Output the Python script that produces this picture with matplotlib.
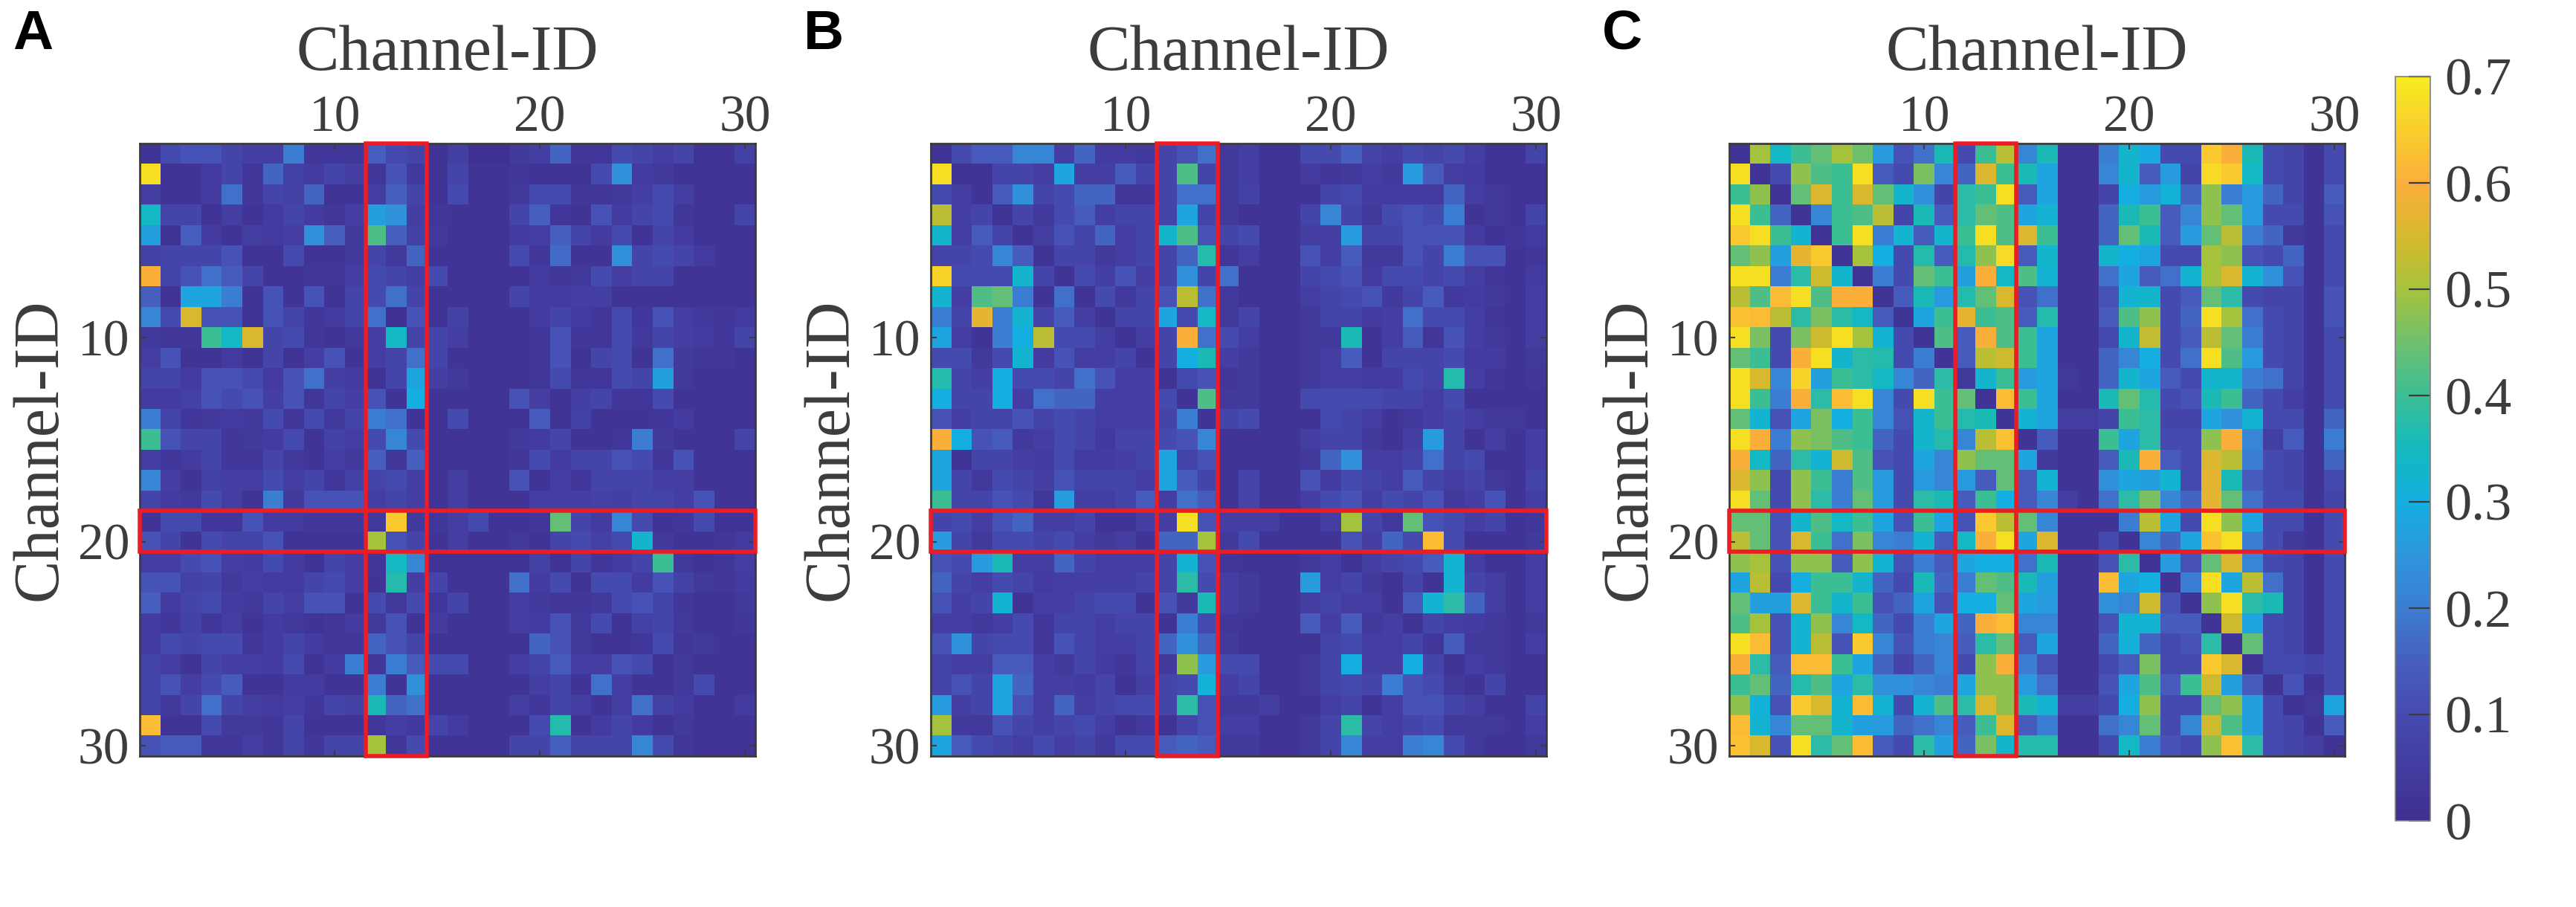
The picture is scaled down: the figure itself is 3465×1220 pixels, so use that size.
import numpy as np
import matplotlib
matplotlib.use('Agg')
import matplotlib.pyplot as plt
from matplotlib.colors import LinearSegmentedColormap
from matplotlib.patches import Rectangle

# ---------------- data (values in hundredths) ----------------
panel_labels = ['A', 'B', 'C']
axis_title = 'Channel-ID'
tick_vals = [10, 20, 30]
cbar_ticks = [0, 0.1, 0.2, 0.3, 0.4, 0.5, 0.6, 0.7]
cbar_ticklabels = ['0', '0.1', '0.2', '0.3', '0.4', '0.5', '0.6', '0.7']
vmin, vmax = 0.0, 0.7
box_cols = (12, 14)   # highlighted columns
box_rows = (19, 20)   # highlighted rows

A_pct = [
 [2,10,12,12,8,6,6,20,3,3,3,15,10,8,2,6,1,1,4,6,16,3,3,10,8,6,8,2,2,7],
 [68,2,2,5,8,3,16,7,5,8,6,3,12,4,2,8,2,2,3,2,2,2,10,24,5,4,2,2,2,2],
 [6,2,2,5,18,3,8,7,16,2,2,6,15,8,2,10,2,2,4,10,10,3,3,4,6,10,6,2,2,2],
 [34,8,8,2,6,2,5,8,5,3,6,27,24,6,3,2,2,2,8,15,3,2,12,5,8,10,3,2,2,8],
 [27,2,15,5,2,6,5,6,24,15,4,42,15,7,4,2,2,2,5,6,15,8,5,10,2,8,5,2,2,2],
 [7,8,8,8,12,2,2,10,2,2,4,8,4,16,2,2,2,2,10,3,17,2,2,24,8,10,8,5,2,2],
 [60,8,12,18,14,8,2,2,3,3,6,10,8,6,10,2,2,2,2,5,3,4,10,6,8,8,2,2,2,2],
 [15,2,28,28,20,2,12,2,12,2,8,10,18,8,2,2,2,2,8,5,5,6,6,2,2,2,2,2,2,2],
 [22,10,55,12,12,2,12,8,3,5,8,18,1,12,2,7,2,2,2,5,8,5,3,10,3,12,6,4,3,5],
 [4,3,3,40,34,55,8,10,3,2,4,6,34,8,8,6,2,2,2,3,12,3,3,10,4,8,6,5,3,8],
 [6,12,2,2,5,2,8,2,6,12,2,6,8,18,8,2,2,2,2,3,12,2,8,10,2,18,4,3,3,2],
 [8,8,5,12,12,10,5,12,18,6,5,2,8,28,6,4,2,2,2,3,10,3,3,10,8,27,4,2,2,2],
 [5,5,7,12,10,12,6,12,3,8,6,12,2,30,2,2,2,2,12,6,2,6,8,3,3,10,2,2,2,2],
 [20,8,3,4,5,4,10,3,10,4,8,20,18,2,2,10,2,2,2,14,2,7,2,2,2,3,5,2,2,2],
 [40,12,8,8,3,4,5,10,2,7,6,10,22,10,2,2,2,2,4,5,8,2,2,3,20,4,2,2,2,8],
 [6,3,5,8,3,3,8,4,2,6,4,15,3,15,2,2,2,2,3,10,5,8,8,12,10,3,12,2,2,2],
 [22,6,2,7,6,6,10,6,8,3,7,8,10,6,2,6,2,2,12,2,6,3,8,8,8,6,6,2,2,2],
 [8,5,4,10,6,2,20,4,12,12,12,6,8,6,2,6,2,2,2,6,6,6,7,6,8,8,6,12,2,2],
 [2,10,10,3,3,12,5,5,3,3,3,4,64,4,3,6,10,2,2,3,44,8,5,22,10,2,3,10,2,2],
 [12,8,2,10,8,8,12,2,2,2,2,50,12,8,2,6,2,2,4,2,8,10,7,10,33,4,2,2,3,5],
 [6,6,10,12,6,5,10,5,2,8,6,3,34,22,2,2,2,2,2,7,2,8,3,5,8,40,4,2,3,6],
 [12,12,7,8,4,6,5,5,8,10,6,2,37,6,8,2,2,2,18,5,10,2,10,10,5,12,7,4,3,5],
 [15,5,8,10,5,4,8,6,12,12,2,10,4,10,3,8,2,2,6,4,3,3,4,10,12,8,3,2,2,4],
 [5,3,7,3,6,2,5,4,2,3,5,4,12,2,5,2,2,2,6,5,12,4,10,2,7,8,4,2,2,3],
 [5,10,8,10,10,3,5,8,5,3,3,16,12,8,2,2,2,2,2,16,12,4,2,2,3,10,3,4,2,2],
 [8,6,2,8,6,6,5,10,2,5,20,3,20,14,10,10,2,2,6,8,14,6,6,12,10,2,4,2,2,2],
 [8,12,6,10,14,2,2,5,5,2,2,20,2,24,2,2,2,2,2,6,8,2,18,6,2,2,4,10,2,2],
 [8,4,8,18,8,6,5,6,3,8,7,36,16,18,2,2,2,2,6,3,8,6,2,6,18,7,5,2,2,5],
 [62,2,2,10,4,4,3,8,2,2,2,3,6,4,8,5,2,2,2,10,37,2,5,8,5,2,4,2,2,2],
 [12,14,14,3,3,6,3,8,3,8,8,50,3,10,2,2,2,2,8,8,15,8,8,8,22,10,3,2,2,2],
]

B_pct = [
 [2,10,14,14,22,22,6,16,5,5,4,8,12,18,4,6,2,2,10,10,15,8,6,10,8,10,6,2,2,8],
 [68,2,2,8,8,6,28,6,6,14,8,8,42,8,4,6,2,2,5,3,4,6,4,26,14,6,5,2,2,2],
 [10,6,2,14,24,8,10,16,16,3,3,8,18,18,4,7,2,2,2,8,10,5,5,5,5,16,6,4,2,2],
 [52,6,8,2,8,4,10,14,6,8,8,8,28,8,4,2,2,2,8,22,8,4,10,12,10,20,2,4,2,8],
 [33,6,14,8,2,6,12,8,16,6,8,33,42,12,8,10,2,2,6,6,26,8,8,12,12,12,5,2,3,5],
 [8,8,10,22,14,2,8,8,4,6,8,8,16,37,3,6,2,2,12,6,14,4,4,12,8,20,12,12,2,3],
 [66,10,10,10,33,8,2,10,6,12,6,8,24,8,18,2,2,2,8,10,12,5,10,10,8,10,6,3,2,5],
 [32,6,42,44,20,2,18,2,10,4,8,12,52,18,4,2,2,2,6,8,10,12,4,8,14,4,5,4,2,6],
 [20,8,57,20,32,8,14,6,2,8,8,28,10,34,4,8,2,2,4,8,8,5,6,18,10,10,6,3,2,6],
 [28,6,2,20,30,52,10,10,6,2,6,8,60,18,10,6,2,2,4,4,36,2,6,14,3,12,6,4,2,6],
 [10,10,4,10,32,5,12,6,6,8,2,8,30,36,6,4,2,2,4,6,14,2,8,8,8,10,5,5,2,4],
 [37,8,6,30,10,10,8,18,12,6,6,2,10,12,3,4,2,2,4,6,6,5,5,10,8,37,6,3,2,3],
 [30,8,8,30,6,18,16,16,6,6,6,10,2,42,4,4,2,2,10,10,10,10,8,8,6,10,2,2,2,2],
 [12,6,8,8,12,8,10,8,6,6,6,8,20,2,8,10,2,2,2,10,8,6,2,4,6,8,6,4,4,2],
 [60,30,12,14,4,6,10,8,4,8,8,10,12,22,2,2,2,2,6,8,8,4,2,6,26,8,2,6,2,6],
 [28,2,8,8,6,5,10,5,5,6,8,28,8,12,2,2,2,2,4,16,24,6,6,8,18,8,10,2,2,6],
 [28,8,4,10,8,6,12,8,8,8,6,28,14,8,2,8,2,2,12,5,10,8,6,14,8,6,8,4,2,8],
 [40,8,8,12,10,3,26,6,6,8,14,6,18,14,2,8,2,2,6,10,12,6,10,8,12,4,6,12,2,6],
 [8,10,6,12,16,6,6,8,2,2,6,6,68,12,6,6,6,2,2,6,50,8,4,44,12,10,6,8,2,3],
 [26,8,4,10,10,8,10,6,4,6,2,16,16,50,4,10,2,2,2,2,12,6,16,10,62,10,2,2,2,4],
 [12,10,26,36,6,6,16,8,6,6,6,8,32,12,3,2,2,2,4,6,2,6,8,10,14,32,6,2,2,6],
 [16,8,6,10,8,5,6,6,6,6,8,8,38,10,6,4,2,2,26,6,8,4,2,8,2,32,8,6,2,6],
 [12,6,8,32,2,6,6,8,10,10,2,12,4,36,6,4,2,2,6,8,6,6,2,14,32,38,16,6,2,6],
 [6,6,4,6,10,3,8,8,6,8,8,2,20,10,3,2,2,2,14,6,14,4,6,2,8,6,5,4,2,4],
 [12,24,8,10,10,3,12,8,6,6,8,16,24,16,4,2,2,2,2,8,10,6,6,8,3,14,4,4,2,6],
 [8,6,6,14,14,6,4,8,5,3,8,4,48,26,10,10,2,2,4,8,30,6,6,30,8,2,6,4,2,2],
 [8,12,8,28,16,6,6,5,8,2,6,8,10,31,6,8,2,2,4,8,10,8,20,12,10,4,2,8,2,2],
 [26,6,8,28,12,6,16,6,8,10,10,8,38,12,4,4,6,2,2,6,8,2,6,12,12,8,6,2,2,8],
 [50,4,4,12,8,6,8,10,6,2,4,2,8,12,6,6,2,2,4,8,38,8,6,8,10,4,4,4,2,6],
 [28,14,10,8,6,10,6,8,4,10,10,14,16,14,4,4,2,2,4,8,22,6,6,20,22,10,4,2,2,4],
]

C_pct = [
 [2,50,34,40,44,50,45,26,12,18,36,10,40,52,22,36,2,2,20,33,29,10,10,64,60,36,10,8,2,10],
 [68,2,10,48,42,40,68,14,10,46,22,16,56,40,36,28,2,2,22,33,14,26,8,67,64,34,10,8,2,10],
 [40,48,2,44,56,40,55,44,33,24,8,38,40,68,14,28,2,2,8,30,26,31,16,48,20,26,16,8,2,14],
 [68,40,16,2,22,40,42,52,8,36,14,38,44,42,28,32,2,2,16,36,40,14,22,48,44,26,10,10,2,12],
 [64,68,40,32,2,40,68,20,32,14,33,40,68,42,56,40,2,2,16,44,36,14,26,44,52,20,16,4,2,10],
 [44,48,27,57,64,2,50,30,10,37,14,37,48,67,14,33,2,2,33,30,28,10,10,50,48,12,10,16,2,10],
 [68,68,20,38,54,33,2,20,10,44,40,27,60,34,42,32,2,2,18,28,14,18,32,50,55,32,24,12,2,10],
 [52,42,62,68,42,60,60,2,14,36,26,37,44,55,12,18,2,2,12,32,33,10,14,44,38,10,8,8,2,12],
 [63,62,52,38,46,38,34,14,2,28,40,57,40,42,14,37,2,2,14,42,48,10,16,68,50,18,10,8,2,12],
 [68,46,10,46,54,68,50,32,10,2,42,14,60,42,40,28,2,2,10,33,53,10,14,52,44,20,10,8,2,10],
 [44,40,10,60,68,33,38,37,10,20,2,14,52,54,40,28,2,2,16,22,30,10,18,68,42,26,10,8,2,10],
 [68,55,22,66,27,40,38,34,22,16,38,4,33,40,26,28,4,2,16,33,28,14,10,33,33,20,18,8,2,10],
 [68,40,20,60,38,62,68,22,10,68,40,44,2,62,40,28,2,2,36,44,37,10,12,36,40,16,10,6,2,10],
 [44,32,12,28,46,30,40,22,12,33,40,37,36,2,32,28,6,6,8,40,38,8,8,28,24,32,10,10,2,16],
 [68,60,20,48,46,42,40,16,10,33,37,22,52,63,2,14,2,2,40,28,38,10,10,48,60,22,6,14,2,20],
 [60,34,16,38,32,54,42,12,10,28,22,48,44,44,28,4,2,2,14,36,60,14,10,56,52,20,10,8,2,16],
 [56,48,10,48,40,20,42,26,10,26,22,26,14,44,14,32,2,2,24,28,27,32,10,57,36,14,10,8,2,10],
 [68,44,10,48,38,20,44,26,10,38,36,14,40,30,14,22,6,2,18,38,46,22,16,57,44,18,10,10,2,8],
 [44,44,12,33,42,34,40,28,12,40,28,12,64,52,44,22,2,2,2,20,52,28,10,68,48,28,10,10,2,10],
 [52,44,12,55,40,18,46,22,20,32,14,34,60,68,28,56,2,2,10,2,22,16,28,63,68,20,10,4,2,10],
 [48,50,12,48,48,14,48,32,12,20,14,28,30,30,18,36,2,2,12,38,2,26,12,44,55,22,10,8,2,10],
 [28,52,10,30,40,40,33,16,10,36,16,20,44,42,36,27,2,2,62,28,30,2,20,68,28,52,18,8,2,10],
 [44,27,27,56,40,33,40,12,16,28,12,30,30,44,28,26,2,2,24,22,54,12,2,48,68,38,36,8,2,10],
 [42,50,12,32,48,22,34,16,10,20,28,16,60,62,22,22,2,2,12,32,32,14,14,2,54,28,10,8,2,10],
 [68,62,12,32,52,12,64,22,12,20,22,14,38,44,14,28,2,2,16,31,16,10,12,38,2,44,10,8,2,10],
 [60,38,14,62,62,40,28,16,8,16,22,10,48,60,20,12,2,2,10,14,46,10,10,64,55,2,10,10,8,10],
 [40,44,16,37,42,28,38,24,24,22,20,28,48,48,26,18,2,2,12,28,42,14,40,54,27,14,2,12,2,10],
 [48,31,12,64,55,32,62,32,10,32,42,38,55,48,36,32,6,6,10,30,48,10,10,44,48,27,10,2,4,28],
 [62,32,22,44,44,33,27,26,16,18,22,14,40,56,14,20,2,2,18,22,44,10,22,54,42,27,10,8,2,14],
 [63,55,12,68,38,44,62,14,10,38,27,16,46,33,37,37,2,2,10,34,20,12,10,48,63,38,10,8,6,2],
]

# parula-like colormap as seen on the reference colorbar
cmap_levels = [0.0, 0.05, 0.10, 0.15, 0.20, 0.25, 0.30, 0.35, 0.40,
               0.45, 0.50, 0.55, 0.60, 0.65, 0.70]
cmap_colors = ['#3e3091', '#443ca0', '#464bb0', '#465fbe', '#3c7dd2',
               '#2d96dc', '#14afe1', '#14b9be', '#3cbe96', '#6ec06e',
               '#a5c33c', '#d7b92d', '#faaf3c', '#facd2d', '#f5eb1e']

# ---------------- figure ----------------
W, H = 3466, 1220
fig = plt.figure(figsize=(W / 100, H / 100), dpi=100, facecolor='white')

cmap = LinearSegmentedColormap.from_list(
    'parula_like',
    list(zip([(l - vmin) / (vmax - vmin) for l in cmap_levels], cmap_colors)),
    N=256)

serif = ['Liberation Serif', 'DejaVu Serif']
txt_color = '#3c3c3c'

panel_left_px = [188, 1252, 2326]
ax_w_px = 828
ax_top_px, ax_bot_px = 193, 1017

def fx(px):
    return px / W

def fy(py):
    return 1 - py / H

datasets = [np.array(A_pct) / 100.0, np.array(B_pct) / 100.0, np.array(C_pct) / 100.0]
n = datasets[0].shape[0]

im = None
for k, data in enumerate(datasets):
    lpx = panel_left_px[k]
    ax = fig.add_axes([fx(lpx), fy(ax_bot_px), ax_w_px / W, (ax_bot_px - ax_top_px) / H])
    im = ax.imshow(data, cmap=cmap, vmin=vmin, vmax=vmax, aspect='auto',
                   interpolation='nearest',
                   extent=(0.5, n + 0.5, n + 0.5, 0.5))
    ax.set_xlim(0.5, n + 0.5)
    ax.set_ylim(n + 0.5, 0.5)
    ax.set_xticks(tick_vals)
    ax.set_yticks(tick_vals)
    ax.set_xticklabels([str(t) for t in tick_vals], fontfamily=serif)
    ax.set_yticklabels([str(t) for t in tick_vals], fontfamily=serif)
    ax.xaxis.tick_top()
    ax.tick_params(axis='both', which='both', direction='in', length=6, width=1.5,
                   colors=txt_color, labelsize=50,
                   top=True, bottom=True, left=True, right=True,
                   labeltop=True, labelbottom=False, labelleft=True, labelright=False)
    ax.tick_params(axis='x', pad=1)
    ax.tick_params(axis='y', pad=10)
    for sp in ax.spines.values():
        sp.set_color(txt_color)
        sp.set_linewidth(2)

    red = '#ec1c24'
    ax.add_patch(Rectangle((box_cols[0] - 0.5, 0.5), box_cols[1] - box_cols[0] + 1, n,
                           fill=False, ec=red, lw=4, clip_on=False, zorder=5))
    ax.add_patch(Rectangle((0.5, box_rows[0] - 0.5), n, box_rows[1] - box_rows[0] + 1,
                           fill=False, ec=red, lw=4, clip_on=False, zorder=5))

    # title above
    fig.text(fx(lpx + ax_w_px / 2), fy(94), axis_title, ha='center', va='baseline',
             fontsize=62, color=txt_color, fontfamily=serif)
    # y label
    fig.text(fx(lpx - 133), fy((ax_top_px + ax_bot_px) / 2), axis_title, rotation=90,
             ha='center', va='center', fontsize=62, color=txt_color, fontfamily=serif)
    # panel letter
    fig.text(fx(lpx - 171), fy(12), panel_labels[k], ha='left', va='top',
             fontsize=54, fontweight='bold', color='black',
             fontfamily=['Liberation Sans', 'DejaVu Sans'])

# colorbar
cax = fig.add_axes([fx(3222), fy(1104), 47 / W, (1104 - 103) / H])
cbar = fig.colorbar(im, cax=cax, ticks=cbar_ticks)
cbar.set_ticklabels(cbar_ticklabels)
cbar.outline.set_edgecolor('#808080')
cbar.outline.set_linewidth(1.2)
cax.tick_params(direction='in', length=21, width=1.6, colors=txt_color,
                labelsize=52, pad=14)
for lab in cax.get_yticklabels():
    lab.set_fontfamily(serif)
cax.minorticks_off()

fig.savefig('out.png', dpi=100, facecolor='white')
